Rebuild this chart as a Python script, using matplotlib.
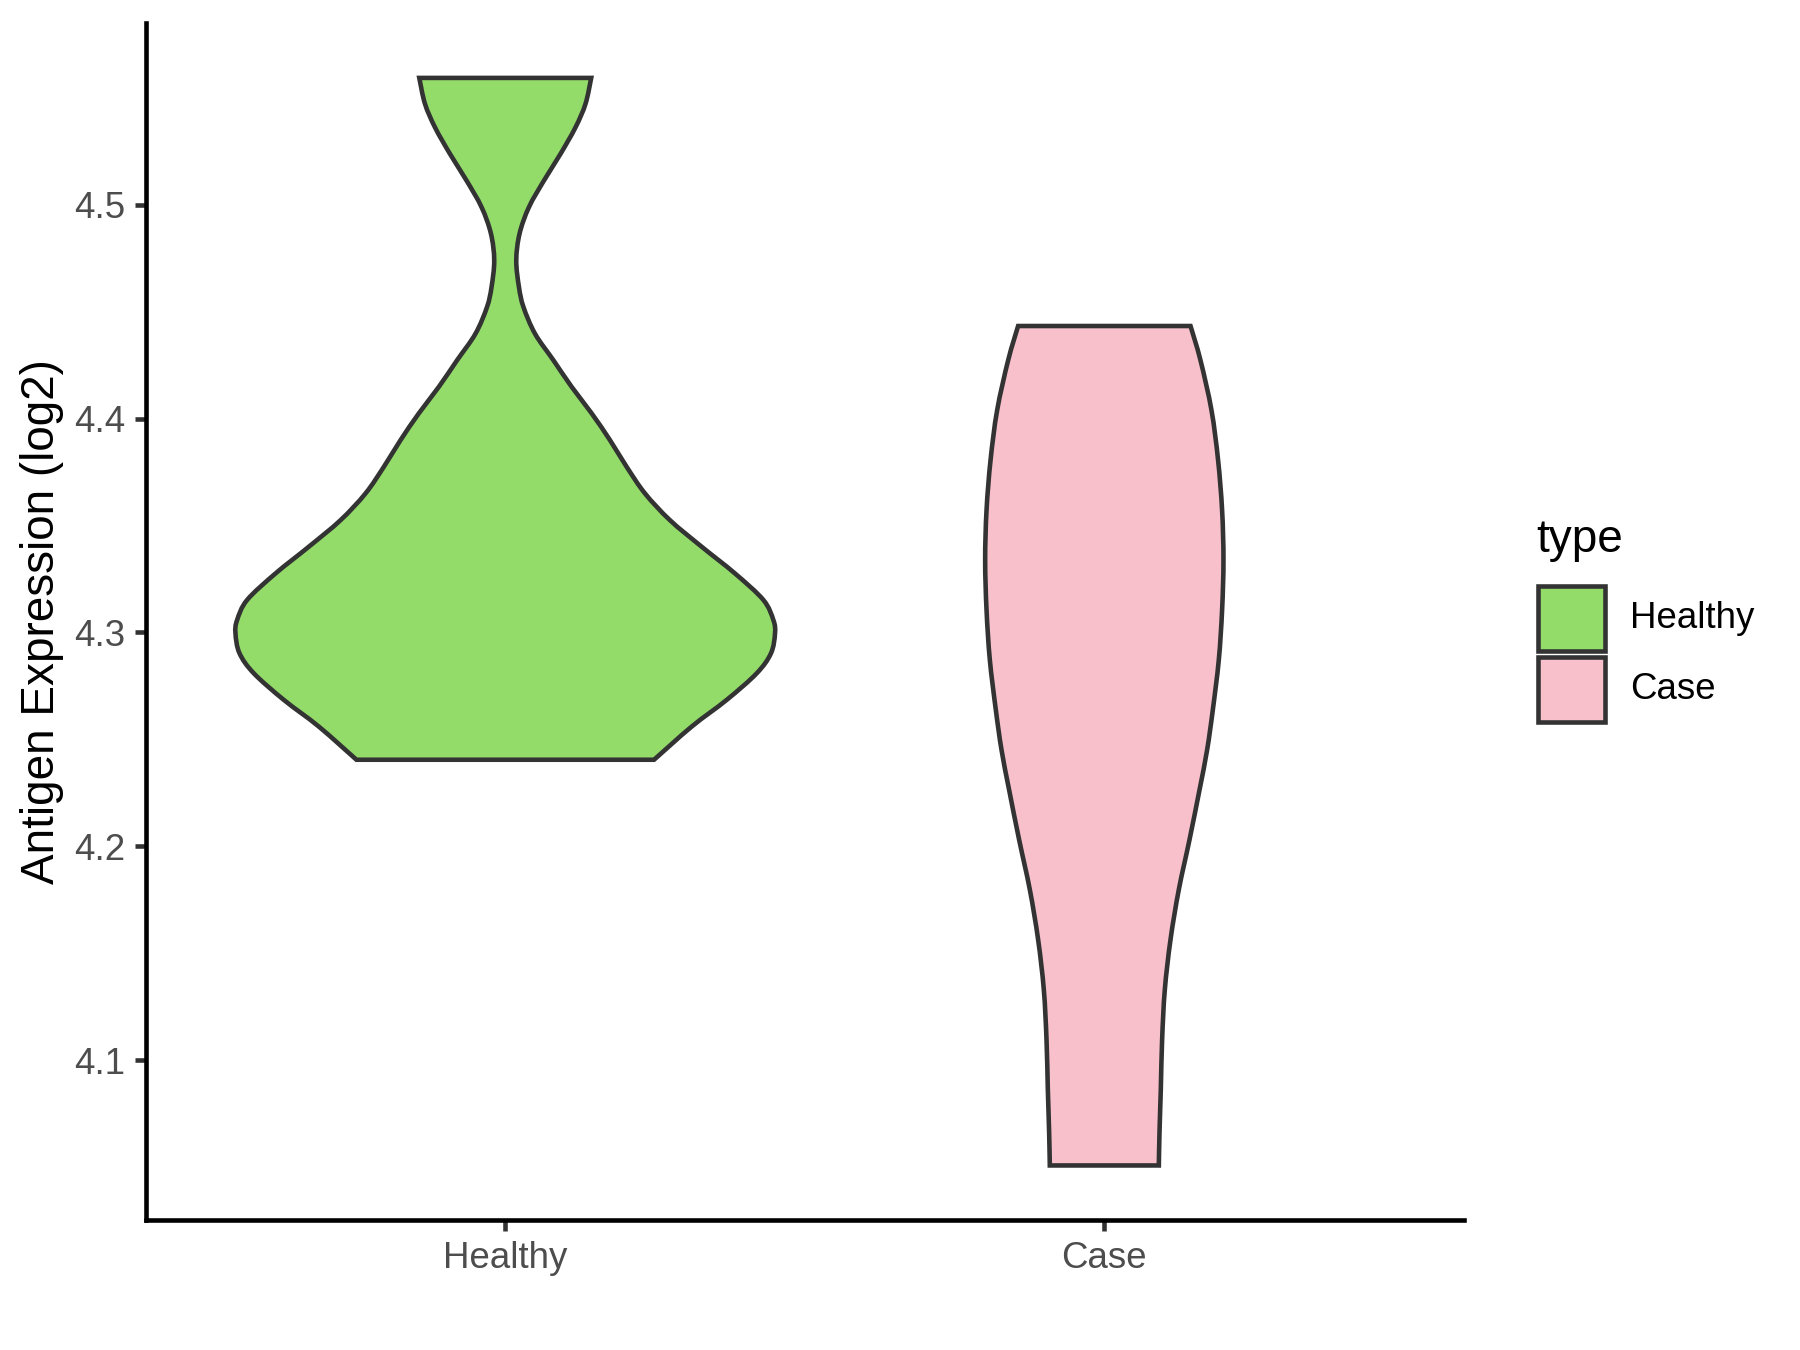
import numpy as np
import matplotlib
matplotlib.use("Agg")
import matplotlib.pyplot as plt
from matplotlib.patches import Rectangle, PathPatch
from matplotlib.path import Path

plt.rcParams['font.family'] = ['Liberation Sans', 'DejaVu Sans']

# violin outlines: expression level and half width (x units)
healthy_y = [4.5593, 4.5472, 4.5362, 4.5238, 4.5113, 4.4989, 4.4865, 4.4740, 4.4615,
             4.4522, 4.4397, 4.4273, 4.4148, 4.4024, 4.3899, 4.3774, 4.3650, 4.3525,
             4.3401, 4.3276, 4.3152, 4.3058, 4.2996, 4.2903, 4.2809, 4.2685, 4.2560,
             4.2405]
healthy_hw = [0.1435, 0.1340, 0.1173, 0.0923, 0.0646, 0.0396, 0.0239, 0.0184, 0.0229,
              0.0304, 0.0497, 0.0804, 0.1110, 0.1444, 0.1749, 0.2028, 0.2333, 0.2750,
              0.3279, 0.3835, 0.4309, 0.4476, 0.4503, 0.4436, 0.4197, 0.3697, 0.3112,
              0.2484]

case_y = [4.4433, 4.4273, 4.4039, 4.3806, 4.3572, 4.3339, 4.3105, 4.2872, 4.2638,
          4.2451, 4.2264, 4.2031, 4.1797, 4.1564, 4.1330, 4.1097, 4.0864, 4.0661,
          4.0508]
case_hw = [0.1439, 0.1605, 0.1789, 0.1899, 0.1966, 0.1989, 0.1966, 0.1911, 0.1811,
           0.1716, 0.1589, 0.1422, 0.1243, 0.1105, 0.1010, 0.0965, 0.0943, 0.0921,
           0.0910]

groups = ['Healthy', 'Case']
colors = ['#93DC6A', '#F7C0CB']
edge = '#333333'


def smooth_side(pts):
    # bezier segments through the given points (catmull-rom tangents)
    pts = np.asarray(pts, dtype=float)
    ext = np.vstack([pts[0], pts, pts[-1]])
    verts, codes = [], []
    for i in range(len(pts) - 1):
        p0, p1, p2, p3 = ext[i], ext[i + 1], ext[i + 2], ext[i + 3]
        c1 = p1 + (p2 - p0) / 6.0
        c2 = p2 - (p3 - p1) / 6.0
        verts += [c1, c2, p2]
        codes += [Path.CURVE4] * 3
    return verts, codes


def violin_path(pos, ys, hws):
    ys = np.asarray(ys)
    hws = np.asarray(hws)
    left = np.column_stack([pos - hws, ys])
    right = np.column_stack([pos + hws, ys])[::-1]
    verts = [left[0]]
    codes = [Path.MOVETO]
    v, c = smooth_side(left)
    verts += v
    codes += c
    verts.append(right[0])
    codes.append(Path.LINETO)
    v, c = smooth_side(right)
    verts += v
    codes += c
    verts.append(left[0])
    codes.append(Path.CLOSEPOLY)
    return Path(verts, codes)


fig = plt.figure(figsize=(6, 4.5), dpi=300)
ax = fig.add_axes([0.081, 0.0963, 0.7322, 0.8867])

for i, (ys, hws) in enumerate([(healthy_y, healthy_hw), (case_y, case_hw)]):
    patch = PathPatch(violin_path(i + 1, ys, hws), facecolor=colors[i], edgecolor=edge,
                      linewidth=1.1, joinstyle='miter', zorder=2)
    ax.add_patch(patch)

ax.set_xlim(0.4, 2.6)
ax.set_ylim(4.0253, 4.585)
ax.set_xticks([1, 2])
ax.set_xticklabels(groups)
ax.set_yticks([4.1, 4.2, 4.3, 4.4, 4.5])
ax.set_yticklabels(['4.1', '4.2', '4.3', '4.4', '4.5'])
ax.tick_params(axis='both', labelsize=8.8, labelcolor='#4D4D4D', color='#333333',
               length=2.75, width=1.1, pad=2.2)

for s in ['top', 'right']:
    ax.spines[s].set_visible(False)
for s in ['left', 'bottom']:
    ax.spines[s].set_linewidth(1.1)
    ax.spines[s].set_color('black')

ax.set_ylabel('Antigen Expression (log2)', fontsize=11, color='black', va='center')
ax.yaxis.set_label_coords(-0.0784, 0.5)

# legend drawn by hand in figure coordinates
W, H = 1800.0, 1350.0
fig.text(1536 / W, 1 - 540 / H, 'type', fontsize=11, ha='left', va='center')
key_tops = [585.5, 656.7]
for i, g in enumerate(groups):
    top = key_tops[i]
    fig.add_artist(Rectangle((1538 / W, 1 - (top + 65) / H), 67 / W, 65 / H,
                             transform=fig.transFigure, facecolor=colors[i],
                             edgecolor=edge, linewidth=1.1))
    fig.text(1630 / W, 1 - (top + 32.5) / H, g, fontsize=8.8, ha='left', va='center')

fig.savefig('out.png', dpi=300)
